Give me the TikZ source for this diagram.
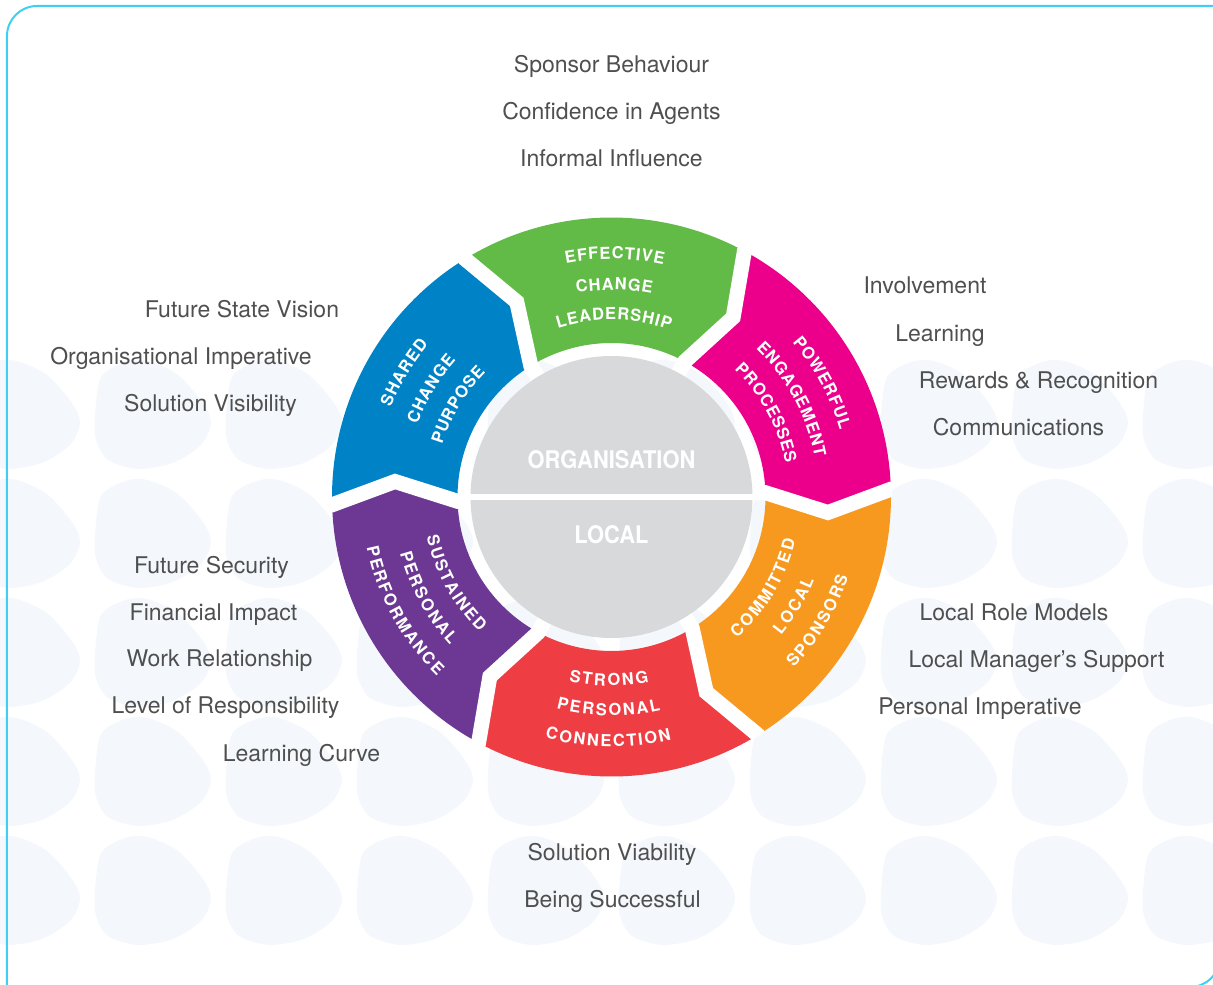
\documentclass[tikz,border=0pt]{standalone}
\usepackage{fontspec}
\usepackage{tikz}
\setmainfont{TeX Gyre Heros}
\newfontfamily\segfont[FakeStretch=0.9]{TeX Gyre Heros}
\newfontfamily\labelfont{TeX Gyre Heros}

\definecolor{segpink}{HTML}{EC008B}
\definecolor{seggreen}{HTML}{62BB47}
\definecolor{segblue}{HTML}{0082C6}
\definecolor{segpurple}{HTML}{6C3893}
\definecolor{segred}{HTML}{EE3E44}
\definecolor{segorange}{HTML}{F7991E}
\definecolor{centergray}{HTML}{D8D9DB}
\definecolor{framecyan}{HTML}{40CFF4}
\definecolor{labelgray}{HTML}{4F4F4F}
\definecolor{blobblue}{HTML}{F4F8FC}

\newdimen\segwd
\newcount\segcount
\newcommand{\segstyle}{\bfseries\fontsize{16.5}{20}\selectfont\color{white}}
\newcommand{\segmeasure}[1]{%
  \pgfinterruptpicture\settowidth{\segwd}{\segstyle #1}\global\segwd=\segwd\endpgfinterruptpicture}
\def\segcountloop#1{\ifx#1\relax\else\advance\segcount by 1 \expandafter\segcountloop\fi}
\def\segplace#1{\ifx#1\relax\else\segone{#1}\expandafter\segplace\fi}
\newcommand{\segone}[1]{%
  \segmeasure{#1}%
  \pgfmathsetmacro{\segang}{\segstart+(\segdir)*(\segcum+0.5*\segwd)/\segrad*180/pi}%
  \node [anchor=base, inner sep=0pt, rotate=\segang+90*(\segdir)] at (\segang:\segbase) {\segstyle #1};
  \pgfmathsetmacro{\segcum}{\segcum+\segwd+\segtrack}}
% #1 centre angle, #2 radius, #3 -1 top / 1 bottom, #4 word
\newcommand{\segword}[4]{%
  \segmeasure{#4}%
  \segcount=0 \segcountloop#4\relax
  \ifnum#3>0 \def\segtrack{1.6}\else\def\segtrack{1.2}\fi
  \pgfmathsetmacro{\seglen}{\segwd+\segtrack*(\segcount-1)}%
  \def\segdir{#3}\def\segrad{#2}\def\segcum{0}%
  \pgfmathsetmacro{\segstart}{#1-(#3)*0.5*\seglen/#2*180/pi}%
  \pgfmathsetmacro{\segbase}{#2+5.9*(#3)}%
  \segplace#4\relax}
\newcommand{\wheelseg}[3]{%
  \fill [#1] (#2:279.5) -- (#2-5.7:217) -- (#2:154) arc [start angle=#2, end angle=#3, radius=154]
    -- (#3-5.7:217) -- (#3:279.5) arc [start angle=#3, end angle=#2, radius=279.5] -- cycle;}

\begin{document}
\begin{tikzpicture}[x=1pt, y=1pt,
  sidelabel/.style={anchor=base, inner sep=0pt, text=labelgray, font=\labelfont\fontsize{23}{28}\selectfont},
  centerlabel/.style={anchor=base, inner sep=0pt, text=white, font=\segfont\bfseries\fontsize{24.3}{27}\selectfont}]
\useasboundingbox (-611.5,-488) rectangle (601.5,497);

\foreach \col in {0,...,9}
  \foreach \row in {0,...,4}
    \fill [blobblue, shift={(131*\col-589.5,82-119*\row)}] plot [smooth cycle] coordinates
      {(-58,0) (-52,38) (-28,53) (-5,54) (25,40) (50,12) (58,-8) (48,-30) (20,-48) (-15,-54) (-45,-45) (-57,-25)};

\draw [framecyan, line width=2pt] (-604.5,-491) -- (-604.5,461) arc [start angle=180, end angle=90, radius=30]
  -- (608.5,491) -- (608.5,-460) arc [start angle=0, end angle=-90, radius=30] -- cycle;

\wheelseg{segpink}{1.6}{61.6}
\wheelseg{seggreen}{61.6}{121.6}
\wheelseg{segblue}{121.6}{181.6}
\wheelseg{segpurple}{181.6}{241.6}
\wheelseg{segred}{241.6}{301.6}
\wheelseg{segorange}{301.6}{361.6}

\begin{scope}
\clip (0,0) circle (280.5);
\foreach \b in {1.6,61.6,121.6,181.6,241.6,301.6}
  \draw [white, line width=15pt, line join=miter] (\b:300) -- (\b:279.5) -- (\b-5.7:217) -- (\b:154) -- (\b:135);
\end{scope}

\fill [centergray] (0,0) circle (141);
\draw [white, line width=6pt] (-141,0) -- (141,0);
\node [centerlabel] (org) at (0,28.7) {ORGANISATION};
\node [centerlabel] (local) at (0,-46.3) {LOCAL};

\segword{89.2}{244}{-1}{EFFECTIVE}
\segword{89.2}{213}{-1}{CHANGE}
\segword{89.2}{183}{-1}{LEADERSHIP}
\segword{149.1}{244}{-1}{SHARED}
\segword{149.1}{213}{-1}{CHANGE}
\segword{149.1}{183}{-1}{PURPOSE}
\segword{28.5}{244}{-1}{POWERFUL}
\segword{28.5}{213}{-1}{ENGAGEMENT}
\segword{28.5}{183}{-1}{PROCESSES}
\segword{269.2}{183}{1}{STRONG}
\segword{269.2}{213}{1}{PERSONAL}
\segword{269.2}{244}{1}{CONNECTION}
\segword{208.7}{183}{1}{SUSTAINED}
\segword{208.7}{213}{1}{PERSONAL}
\segword{208.7}{244}{1}{PERFORMANCE}
\segword{329.1}{183}{1}{COMMITTED}
\segword{329.1}{213}{1}{LOCAL}
\segword{329.1}{244}{1}{SPONSORS}

\node [sidelabel] (sponsor) at (0,424) {Sponsor Behaviour};
\node [sidelabel] (confidence) at (0,377) {Confidence in Agents};
\node [sidelabel] (informal) at (0,330) {Informal Influence};

\node [sidelabel] (vision) at (-369.5,179) {Future State Vision};
\node [sidelabel] (imperative) at (-430.5,132) {Organisational Imperative};
\node [sidelabel] (visibility) at (-401,85) {Solution Visibility};

\node [sidelabel] (involvement) at (313.5,203) {Involvement};
\node [sidelabel] (learning) at (328.5,155) {Learning};
\node [sidelabel] (rewards) at (427,108) {Rewards \& Recognition};
\node [sidelabel] (comms) at (407,61) {Communications};

\node [sidelabel] (rolemodels) at (402.5,-123) {Local Role Models};
\node [sidelabel] (mgrsupport) at (425,-170) {Local Manager’s Support};
\node [sidelabel] (persimp) at (368.5,-217) {Personal Imperative};

\node [sidelabel] (viability) at (0.5,-363) {Solution Viability};
\node [sidelabel] (successful) at (1,-410) {Being Successful};

\node [sidelabel] (security) at (-400,-76.3) {Future Security};
\node [sidelabel] (financial) at (-398,-123) {Financial Impact};
\node [sidelabel] (workrel) at (-392,-169.7) {Work Relationship};
\node [sidelabel] (responsibility) at (-386,-216.3) {Level of Responsibility};
\node [sidelabel] (curve) at (-310,-264) {Learning Curve};
\end{tikzpicture}
\end{document}
